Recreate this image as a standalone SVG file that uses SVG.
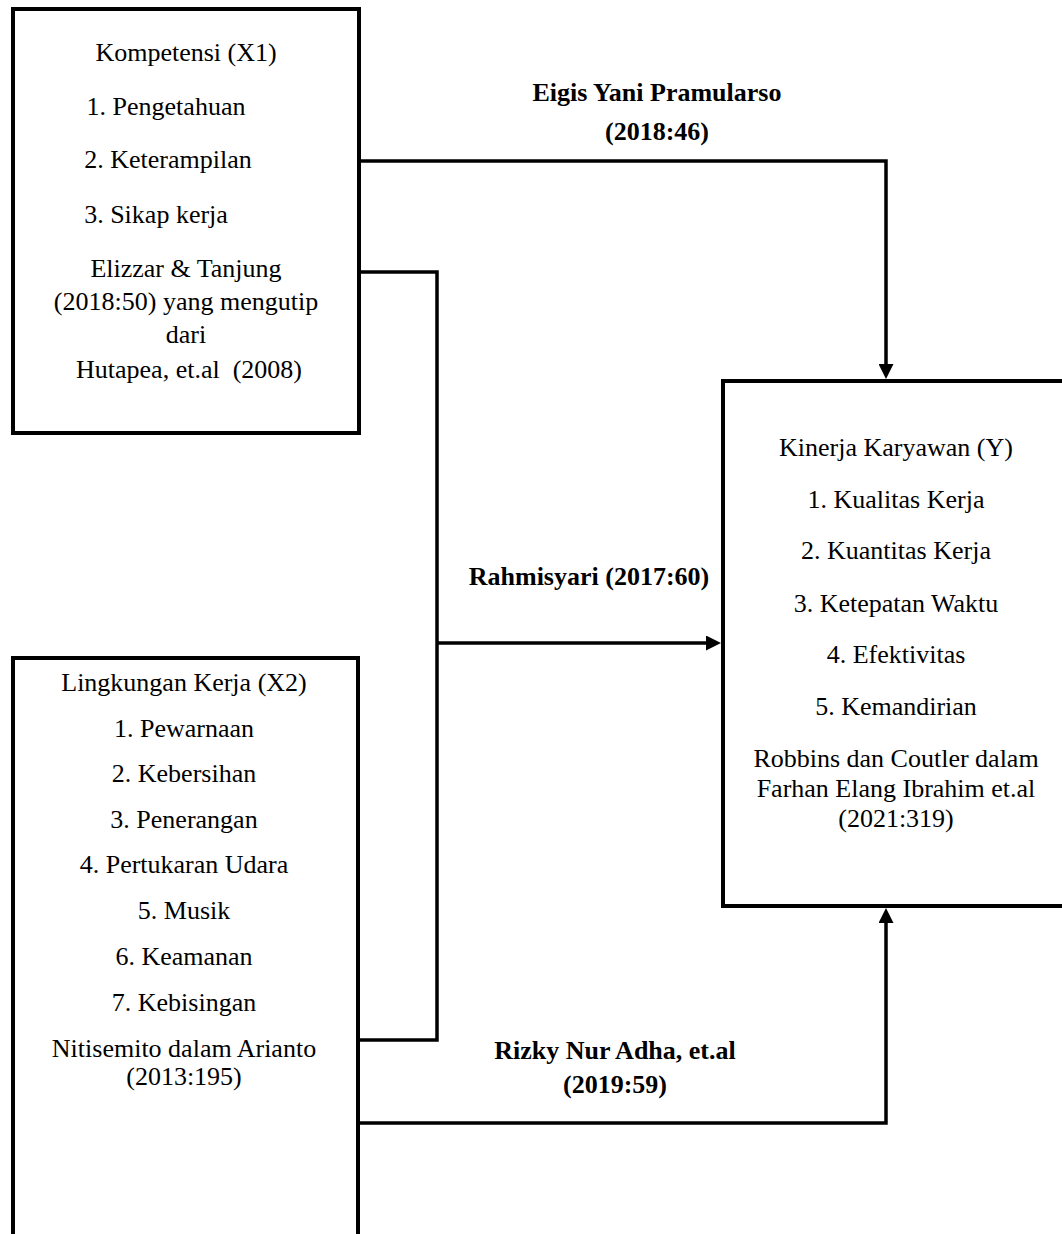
<svg xmlns="http://www.w3.org/2000/svg" width="1062" height="1234" viewBox="0 0 1062 1234">
<defs>
<style>
.box{fill:none;stroke:#000;stroke-width:4}
.con{fill:none;stroke:#000;stroke-width:3.5}
text{font-family:"Liberation Serif","Times New Roman",serif;font-size:26px;fill:#000;text-anchor:middle}
.lbl{font-weight:bold}
</style>
<marker id="arr" markerUnits="userSpaceOnUse" markerWidth="15" markerHeight="15" refX="0" refY="7.5" orient="auto">
<path d="M0,0 L15,7.5 L0,15 z" fill="#000"/>
</marker>
</defs>
<rect x="0" y="0" width="1062" height="1234" fill="#fff"/>
<g id="connectors">
<path class="con" d="M359 161 H886 V364" marker-end="url(#arr)"/>
<path class="con" d="M359 272 H437 V1040 H358"/>
<path class="con" d="M437 643 H706" marker-end="url(#arr)"/>
<path class="con" d="M358 1123 H886 V923" marker-end="url(#arr)"/>
<text class="lbl" x="657" y="101">Eigis Yani Pramularso</text>
<text class="lbl" x="657" y="140">(2018:46)</text>
<text class="lbl" x="589" y="585">Rahmisyari (2017:60)</text>
<text class="lbl" x="615" y="1059">Rizky Nur Adha, et.al</text>
<text class="lbl" x="615" y="1093">(2019:59)</text>
</g>
<g id="x1">
<rect class="box" x="13" y="9" width="346" height="424"/>
<text x="186" y="61">Kompetensi (X1)</text>
<text x="166" y="115">1. Pengetahuan</text>
<text x="168" y="168">2. Keterampilan</text>
<text x="156" y="223">3. Sikap kerja</text>
<text x="186" y="277">Elizzar &amp; Tanjung</text>
<text x="186" y="310">(2018:50) yang mengutip</text>
<text x="186" y="343">dari</text>
<text x="189" y="378" xml:space="preserve">Hutapea, et.al  (2008)</text>
</g>
<g id="x2">
<rect class="box" x="13" y="658" width="345" height="620"/>
<text x="184" y="691">Lingkungan Kerja (X2)</text>
<text x="184" y="737">1. Pewarnaan</text>
<text x="184" y="782">2. Kebersihan</text>
<text x="184" y="828">3. Penerangan</text>
<text x="184" y="873">4. Pertukaran Udara</text>
<text x="184" y="919">5. Musik</text>
<text x="184" y="965">6. Keamanan</text>
<text x="184" y="1011">7. Kebisingan</text>
<text x="184" y="1057">Nitisemito dalam Arianto</text>
<text x="184" y="1085">(2013:195)</text>
</g>
<g id="y">
<rect class="box" x="723" y="381" width="345" height="525"/>
<text x="896" y="456">Kinerja Karyawan (Y)</text>
<text x="896" y="508">1. Kualitas Kerja</text>
<text x="896" y="559">2. Kuantitas Kerja</text>
<text x="896" y="612">3. Ketepatan Waktu</text>
<text x="896" y="663">4. Efektivitas</text>
<text x="896" y="715">5. Kemandirian</text>
<text x="896" y="767">Robbins dan Coutler dalam</text>
<text x="896" y="797">Farhan Elang Ibrahim et.al</text>
<text x="896" y="827">(2021:319)</text>
</g>
</svg>
